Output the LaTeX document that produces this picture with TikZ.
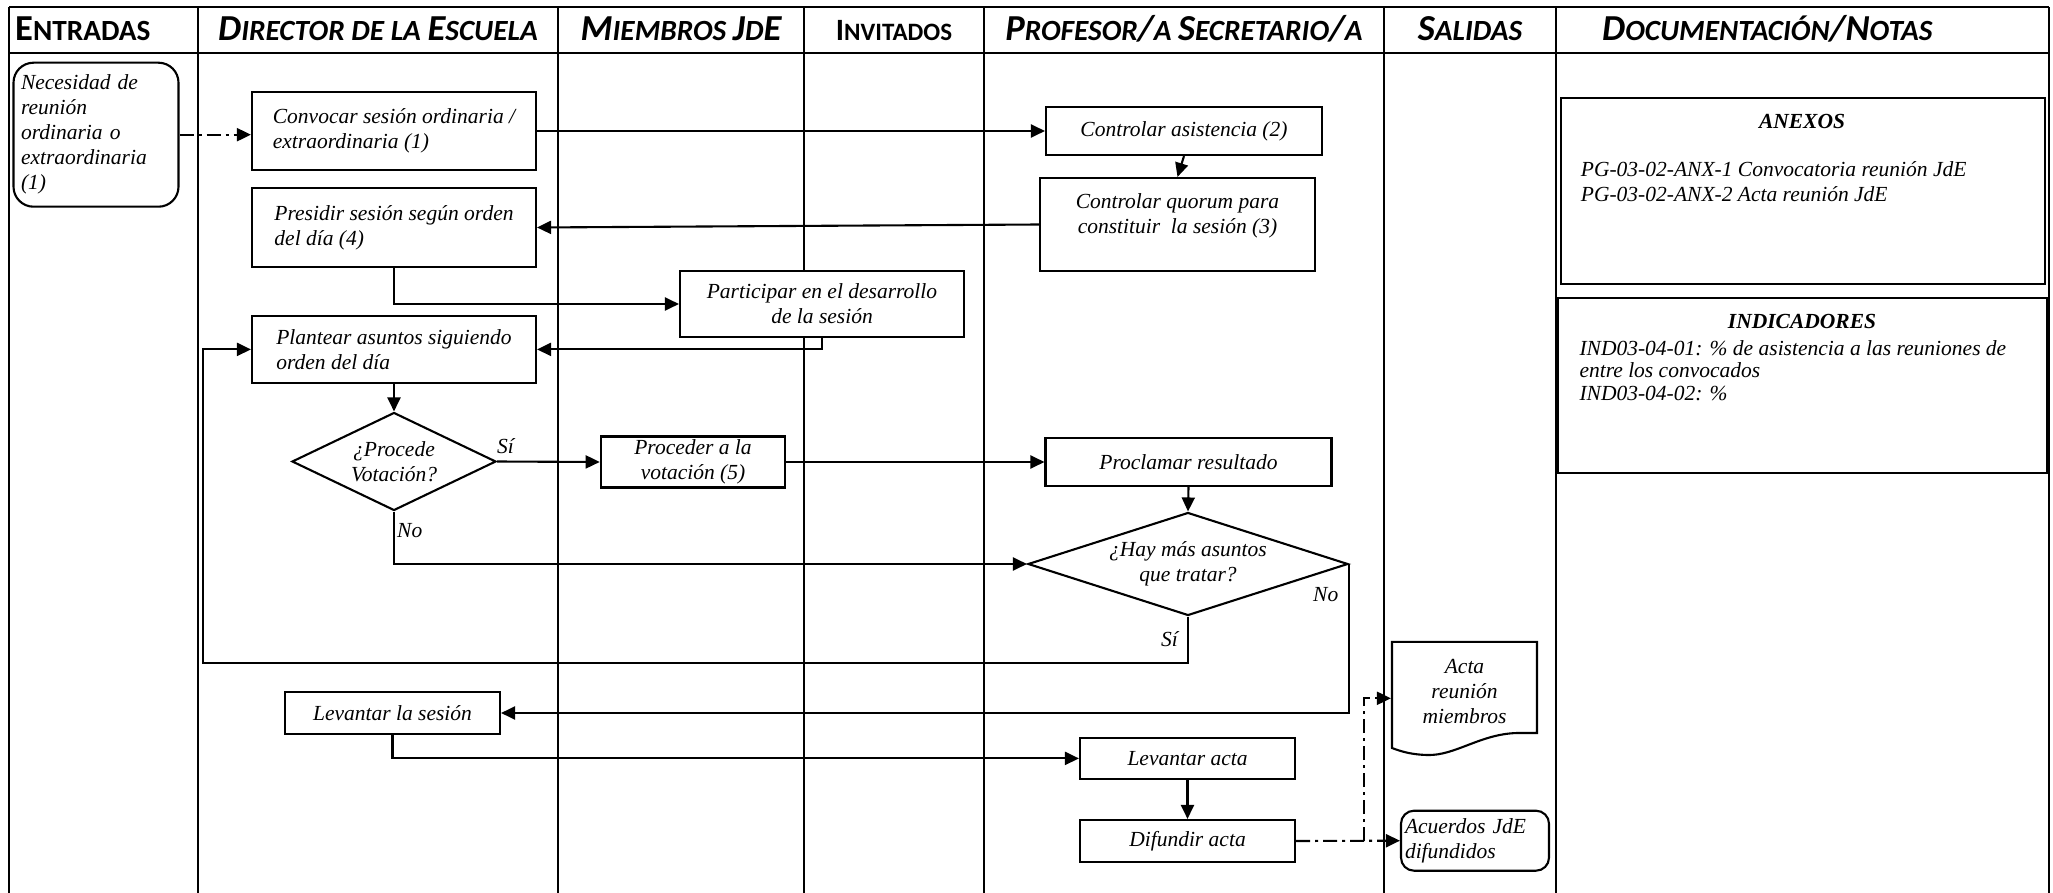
\documentclass[tikz,border=0pt]{standalone}
\usepackage{fontspec}
\setmainfont{Liberation Serif}
\newfontfamily\hdrfont{Carlito}
\usetikzlibrary{arrows.meta,shapes.geometric,calc}
\newcommand\hB[1]{{\fontsize{36.6}{40}\selectfont #1}}
\newcommand\hS[1]{{\fontsize{29.3}{32}\selectfont #1}}
\newcommand\hBi[1]{{\fontsize{31}{34}\selectfont #1}}
\newcommand\hSi[1]{{\fontsize{25}{28}\selectfont #1}}
\begin{document}
\begin{tikzpicture}[x=1pt,y=-1pt,
  txt/.style={font=\fontsize{21.5}{25}\selectfont\itshape},
  fbox/.style={txt, draw, fill=white, line width=2.1pt, inner sep=0pt, align=center},
  dia/.style={fbox, shape=diamond},
  docbox/.style={draw, line width=2.3pt, inner sep=0pt},
  doct/.style={txt, inner sep=0pt, anchor=base west},
  doch/.style={txt, inner sep=0pt, anchor=base, font=\fontsize{21.5}{25}\selectfont\bfseries\itshape},
  lbl/.style={txt, inner sep=0pt, anchor=base west},
  hdr/.style={inner sep=0pt, anchor=base, font=\hdrfont\bfseries\itshape},
  tbl/.style={line width=2.6pt},
  conn/.style={line width=2.1pt, -{Triangle[length=14pt,width=13pt]}},
  dd/.style={conn, dash pattern=on 14pt off 5pt on 3pt off 5pt}]
\useasboundingbox (0,0) rectangle (2053,893);
\fill[white] (0,0) rectangle (2053,893);
% table
\draw[tbl] (9,7) -- (2049,7);
\draw[tbl] (9,53) -- (2049,53);
\foreach \x in {9,198,558,804,984,1384,1556,2049} \draw[tbl] (\x,7) -- (\x,893);
% headers
\node[hdr, anchor=base west, font=\hdrfont\bfseries] (h1) at (15,41) {\hB{E}\hS{NTRADAS}};
\node[hdr] (h2) at (378,41) {\hB{D}\hS{IRECTOR DE LA }\hB{E}\hS{SCUELA}};
\node[hdr] (h3) at (681,41) {\hB{M}\hS{IEMBROS }\hB{J}\hS{D}\hB{E}};
\node[hdr, font=\hdrfont\bfseries] (h4) at (894,41) {\hBi{I}\hSi{NVITADOS}};
\node[hdr] (h5) at (1184,41) {\hB{P}\hS{ROFESOR}\hB{/}\hS{A }\hB{S}\hS{ECRETARIO}\hB{/}\hS{A}};
\node[hdr] (h6) at (1470,41) {\hB{S}\hS{ALIDAS}};
\node[hdr, anchor=base west] (h7) at (1602,41) {\hB{D}\hS{OCUMENTACIÓN}\hB{/N}\hS{OTAS}};
% connectors drawn under boxes
\coordinate (loopL) at (203,663.3);
% flow nodes
\node[fbox, rounded corners=20pt, minimum width=165pt, minimum height=144pt, text width=150pt, align=left] (nec) at (96,134.7) {Necesidad de\\reunión\\ordinaria o\\extraordinaria\\(1)};
\node[fbox, minimum width=284pt, minimum height=78pt, align=left] (conv) at (394,131) {Convocar sesión ordinaria /\\extraordinaria (1)};
\node[fbox, minimum width=284pt, minimum height=79pt, align=left] (pres) at (394,227.5) {Presidir sesión según orden\\del día (4)};
\node[fbox, minimum width=284pt, minimum height=67pt, align=left] (plan) at (394,349.4) {Plantear asuntos siguiendo\\orden del día};
\node[dia, aspect=2, minimum width=204pt, minimum height=98pt] (proc) at (394,461.5) {¿Procede\\Votación?};
\node[fbox, minimum width=215pt, minimum height=42pt] (lev) at (392.5,713) {Levantar la sesión};
\node[fbox, minimum width=284pt, minimum height=66pt] (part) at (822,304) {Participar en el desarrollo\\de la sesión};
\node[fbox, minimum width=184.5pt, minimum height=51pt] (vot) at (693,462) {Proceder a la\\votación (5)};
\node[fbox, minimum width=276pt, minimum height=48pt] (asis) at (1184,131) {Controlar asistencia (2)};
\node[fbox, minimum width=275pt, minimum height=93pt] (quor) at (1177.5,224.5) {Controlar quorum para\\constituir\ \ la sesión (3)\\[-4pt]\mbox{}};
\node[fbox, minimum width=286pt, minimum height=48pt] (procl) at (1188.5,462) {Proclamar resultado};
\node[dia, aspect=3.1, minimum width=320pt, minimum height=103pt] (hay) at (1188,564) {¿Hay más asuntos\\que tratar?};
\node[fbox, minimum width=215pt, minimum height=41pt] (lacta) at (1187.5,758.4) {Levantar acta};
\node[fbox, minimum width=215pt, minimum height=42pt] (dif) at (1187.5,841) {Difundir acta};
\draw[line width=2.1pt, fill=white] (1392,641.8) -- (1537,641.8) -- (1537,733) -- (1517,733)
  .. controls (1480,734) and (1455,756) .. (1427,755)
  .. controls (1410,754.5) and (1400,751) .. (1392,748) -- cycle;
\node[fbox, draw=none, fill=none, minimum width=145pt, minimum height=113pt] (acta) at (1464.5,698.3) {Acta\\reunión\\miembros\\[-11pt]\mbox{}};
\node[fbox, rounded corners=13pt, minimum width=148pt, minimum height=60pt, text width=140pt, align=left] (acu) at (1475,840.7) {Acuerdos JdE\\difundidos};
% documentation
\node[docbox, minimum width=484pt, minimum height=186pt] (anex) at (1803,191.3) {};
\node[doch] (anext) at (1802,128.3) {ANEXOS};
\node[doct] (anx1) at (1580.7,176.7) {PG-03-02-ANX-1 Convocatoria reunión JdE};
\node[doct] (anx2) at (1580.7,201.7) {PG-03-02-ANX-2 Acta reunión JdE};
\node[docbox, minimum width=489pt, minimum height=175.6pt] (ind) at (1802.5,385.5) {};
\node[doch] (indt) at (1802,328.3) {INDICADORES};
\node[doct] (ind1) at (1579.3,355) {IND03-04-01: \% de asistencia a las reuniones de};
\node[doct] (ind2) at (1579.3,377) {entre los convocados};
\node[doct] (ind3) at (1579.3,400) {IND03-04-02: \%};
% connectors
\draw[dd] (nec.east) -- (nec.east -| conv.west);
\draw[conn] (conv.east) -- (asis.west);
\draw[conn] (asis.south) -- (quor.north);
\draw[conn] (quor.west) -- (pres.east);
\draw[conn] (pres.south) |- (part.west);
\draw[conn] (part.south) |- (plan.east);
\draw[conn] (plan.south) -- (proc.north);
\draw[conn] (proc.east) -- (vot.west);
\draw[conn] (vot.east) -- (procl.west);
\draw[conn] (procl.south) -- (hay.north);
\draw[conn] (proc.south) |- (hay.west);
\draw[conn] (hay.south) |- (loopL) |- (plan.west);
\draw[conn] (hay.east) |- (lev.east);
\draw[conn] (lev.south) |- (lacta.west);
\draw[conn] (lacta.south) -- (dif.north);
\draw[dd] (dif.east) -- (acu.west);
\path (dif.east) ++(68,0) coordinate (jn);
\draw[dd] (jn) |- (acta.west);
% labels
\node[lbl] (si1) at (497,453) {Sí};
\node[lbl] (no1) at (397,537) {No};
\node[lbl] (si2) at (1161,646) {Sí};
\node[lbl] (no2) at (1313,601) {No};
\end{tikzpicture}
\end{document}
